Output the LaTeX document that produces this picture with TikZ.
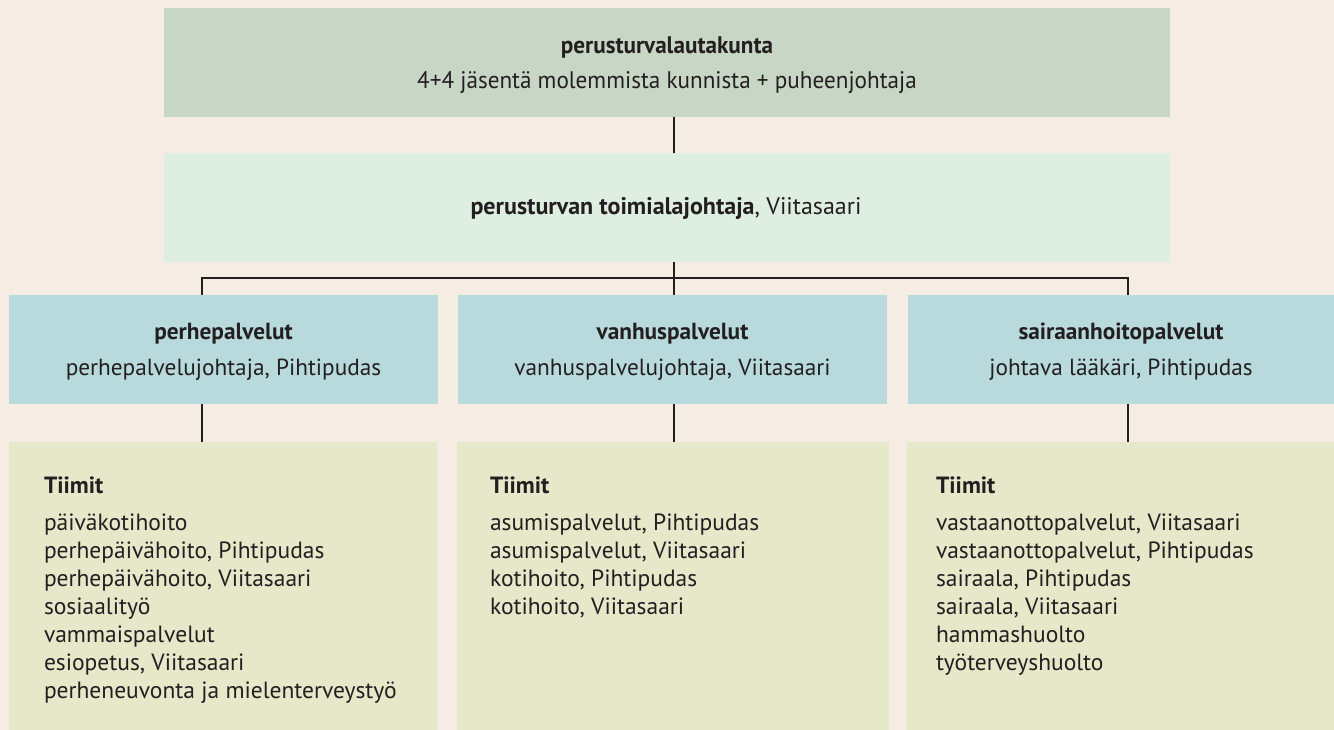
\documentclass[tikz,border=0pt]{standalone}
\usepackage{fontspec}
\setmainfont{PT Sans}
\newfontfamily\condfont{PT Sans}[FakeStretch=0.965]
\definecolor{bgc}{RGB}{245,237,227}
\definecolor{topc}{RGB}{200,214,197}
\definecolor{mgrc}{RGB}{222,238,224}
\definecolor{bluec}{RGB}{184,218,220}
\definecolor{teamc}{RGB}{229,232,201}
\definecolor{linec}{RGB}{35,31,32}
\tikzset{
  boxbase/.style={draw=none, inner sep=0pt, outer sep=0pt, text=linec},
  topbox/.style={boxbase, fill=topc},
  mgrbox/.style={boxbase, fill=mgrc},
  unitbox/.style={boxbase, fill=bluec},
  teambox/.style={boxbase, fill=teamc},
  btxt/.style={inner sep=0pt, outer sep=0pt, text=linec, align=center},
  ttxt/.style={inner sep=0pt, outer sep=0pt, text=linec, align=left, anchor=north west},
  conn/.style={draw=linec, line width=2.2pt}
}
\newcommand{\unitfont}{\fontsize{23.3}{36}\selectfont}
\newcommand{\teamfont}{\fontsize{23.5}{28}\selectfont}
\begin{document}
\begin{tikzpicture}[x=1pt,y=-1pt]
\fill[bgc] (0,0) rectangle (1334,730);
\useasboundingbox (0,0) rectangle (1334,730);
% boxes
\node[topbox, minimum width=1006pt, minimum height=109pt] (top) at (667,62.5) {};
\node[btxt, font=\condfont\fontsize{24}{35}\selectfont] (toptxt) at (667,65) {\textbf{perusturvalautakunta}\\4+4 jäsentä molemmista kunnista + puheenjohtaja};
\node[mgrbox, minimum width=1006pt, minimum height=109pt] (mgr) at (667,207.5) {};
\node[btxt, font=\fontsize{24}{36}\selectfont] (mgrtxt) at (666,208.5) {\textbf{perusturvan toimialajohtaja}, Viitasaari};
\node[unitbox, minimum width=429pt, minimum height=109pt] (perhe) at (223.5,349.5) {};
\node[btxt, font=\unitfont] (perhetxt) at (223.5,352) {\textbf{perhepalvelut}\\perhepalvelujohtaja, Pihtipudas};
\node[unitbox, minimum width=429pt, minimum height=109pt] (vanhus) at (672.5,349.5) {};
\node[btxt, font=\unitfont] (vanhustxt) at (672.5,352) {\textbf{vanhuspalvelut}\\vanhuspalvelujohtaja, Viitasaari};
\node[unitbox, minimum width=426pt, minimum height=109pt] (sair) at (1121,349.5) {};
\node[btxt, font=\unitfont] (sairtxt) at (1121,352) {\textbf{sairaanhoitopalvelut}\\johtava lääkäri, Pihtipudas};
\node[teambox, minimum width=428pt, minimum height=288pt] (tL) at (223,586) {};
\node[teambox, minimum width=432pt, minimum height=288pt] (tM) at (673,586) {};
\node[teambox, minimum width=427pt, minimum height=288pt] (tR) at (1120.5,586) {};
\node[ttxt, font=\teamfont] (tLtxt) at (44,476.5) {\textbf{Tiimit}\\[9pt]päiväkotihoito\\perhepäivähoito, Pihtipudas\\perhepäivähoito, Viitasaari\\sosiaalityö\\vammaispalvelut\\esiopetus, Viitasaari\\perheneuvonta ja mielenterveystyö};
\node[ttxt, font=\teamfont] (tMtxt) at (490,476.5) {\textbf{Tiimit}\\[9pt]asumispalvelut, Pihtipudas\\asumispalvelut, Viitasaari\\kotihoito, Pihtipudas\\kotihoito, Viitasaari};
\node[ttxt, font=\teamfont] (tRtxt) at (936,476.5) {\textbf{Tiimit}\\[9pt]vastaanottopalvelut, Viitasaari\\vastaanottopalvelut, Pihtipudas\\sairaala, Pihtipudas\\sairaala, Viitasaari\\hammashuolto\\työterveyshuolto};
% junction coordinates
\coordinate (jL) at (202,278);
\coordinate (jM) at (674,278);
\coordinate (jR) at (1128,278);
% connectors
\draw[conn] (top.south -| jM) -- (mgr.north -| jM);
\draw[conn] (mgr.south -| jM) -- (vanhus.north -| jM);
\draw[conn] (perhe.north -| jL) -- (jL) -- (jR) -- (sair.north -| jR);
\draw[conn] (perhe.south -| jL) -- (tL.north -| jL);
\draw[conn] (vanhus.south -| jM) -- (tM.north -| jM);
\draw[conn] (sair.south -| jR) -- (tR.north -| jR);
\end{tikzpicture}
\end{document}
